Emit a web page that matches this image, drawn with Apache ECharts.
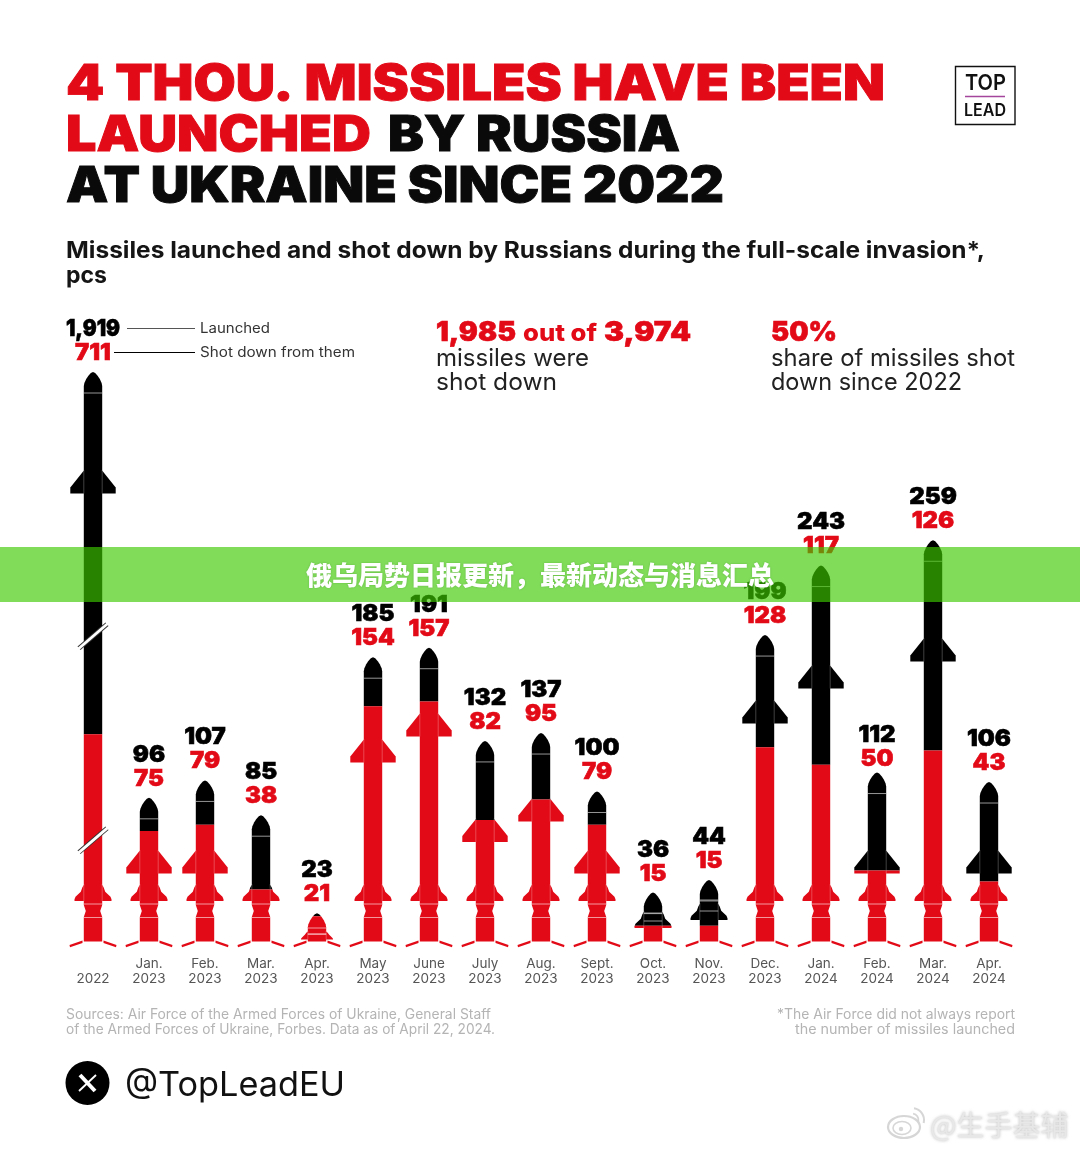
<!DOCTYPE html>
<html><head><meta charset="utf-8">
<style>html,body{margin:0;padding:0;background:#fff}#c{width:1080px;height:1150px}</style>
<script src="https://cdn.jsdelivr.net/npm/echarts@6/dist/echarts.min.js"></script>
</head><body><div id="c"></div>
<script>
const categories = ['2022','Jan.\n2023','Feb.\n2023','Mar.\n2023','Apr.\n2023','May\n2023','June\n2023','July\n2023','Aug.\n2023','Sept.\n2023','Oct.\n2023','Nov.\n2023','Dec.\n2023','Jan.\n2024','Feb.\n2024','Mar.\n2024','Apr.\n2024'];
const launched = [1919,96,107,85,23,185,191,132,137,100,36,44,199,243,112,259,106];
const shotDown = [711,75,79,38,21,154,157,82,95,79,15,15,128,117,50,126,43];
const breaks2022 = [[69,644],[773,1752]];

const RED='#e30a17', BLACK='#000000';
const FB='Inter, "Noto Sans", sans-serif';
// rocket geometry: pixel offsets from the baseline of each rocket
const upperFin = {0:479.5,1:99.5,2:99.5,5:210.5,6:236.5,7:131,8:151.5,9:99.5,12:249.5,13:284.5,14:99.5,15:311.5,16:99.5};
const labelNudge = {14:6};
const lowerParts = {
  def:{fin:[65.5,48.5],seams:[45.5,32],waist:true,half:18.5},
  4:{fin:[18.5,10],seams:[21.5,15.5],waist:false,half:16},
  10:{fin:[38.5,21.5],seams:[36.5,28.5],waist:false,half:18.5},
  11:{fin:[46.5,29.5],seams:[49.5,38.5],waist:false,half:18.5}
};
function clip(poly,yc,keepBelow){
  const out=[];const ins=p=>keepBelow?p[1]>=yc:p[1]<=yc;
  for(let i=0;i<poly.length;i++){
    const a=poly[i],b=poly[(i+1)%poly.length];
    if(ins(a))out.push(a);
    if(ins(a)!==ins(b)){const t=(yc-a[1])/(b[1]-a[1]);out.push([a[0]+t*(b[0]-a[0]),yc]);}
  }
  return out;
}
function rocketItem(params,api){
  const idx=api.value(0),L=api.value(1),S=api.value(2);
  const [cx,base]=api.coord([idx,0]);
  const topY=api.coord([idx,L])[1], redY=api.coord([idx,S])[1];
  const parts=lowerParts[idx]||lowerParts.def;
  const kids=[];
  const Y=o=>base-o;
  const P=(x,y)=>[cx+x,y];
  const paint=(poly)=>{
    const r=clip(poly,redY,true),b=clip(poly,redY,false);
    if(b.length>2)kids.push({type:'polygon',shape:{points:b},style:{fill:BLACK}});
    if(r.length>2)kids.push({type:'polygon',shape:{points:r},style:{fill:RED}});
  };
  const hw=9.2;
  const seam=(x1,y1,x2,y2,a)=>kids.push({type:'line',shape:{x1,y1,x2,y2},style:{stroke:'rgba(255,255,255,'+a+')',lineWidth:.8}});
  [1,-1].forEach(s=>{
    paint([P(s*10.5,Y(9)),P(s*23.5,Y(4.6)),P(s*23,Y(2.2)),P(s*10.5,Y(6.4))]);
    const a=Y(parts.fin[0]),b=Y(parts.fin[1]),h=b-a,w=parts.half;
    paint([P(s*(hw-.5),a),P(s*(hw+1.5),a+h*.2),P(s*(hw+3),a+h*.45),P(s*(w-1),a+h*.75),P(s*w,a+h*.9),P(s*w,b),P(s*(hw-.5),b)]);
    if(upperFin[idx]!=null){
      const t=Y(upperFin[idx]);
      paint([P(s*(hw-.5),t),P(s*22.7,t+17.5),P(s*22.7,t+23.5),P(s*(hw-.5),t+23.5)]);
    }
  });
  const right=[[hw,Y(8)]];
  if(parts.waist){right.push([hw,Y(32.5)],[7.2,Y(38.5)],[hw,Y(44.5)]);}
  right.push([hw,topY+14],[8.6,topY+11],[6.8,topY+7],[4.8,topY+4],[2.2,topY+1],[0,topY]);
  const body=right.map(p=>P(p[0],p[1]));
  for(let i=right.length-2;i>=0;i--)body.push(P(-right[i][0],right[i][1]));
  paint(body);
  [1,-1].forEach(s=>{
    seam(cx+s*hw,Y(parts.fin[0]),cx+s*hw,Y(parts.fin[1]),.32);
    if(upperFin[idx]!=null){const t=Y(upperFin[idx]);seam(cx+s*hw,t,cx+s*hw,t+23.5,.32);}
  });
  [Y(parts.seams[0]),Y(parts.seams[1]),topY+21].forEach(y=>{
    kids.push({type:'line',shape:{x1:cx-hw,y1:y,x2:cx+hw,y2:y},style:{stroke:'rgba(255,255,255,.65)',lineWidth:.9}});
  });
  const nudge=labelNudge[idx]||0;
  const lab=(txt,y,col,sx)=>kids.push({type:'text',x:cx,y:y+nudge,scaleX:sx,style:{text:txt,fill:col,stroke:col,lineWidth:.6,align:'center',verticalAlign:'middle',fontFamily:FB,fontWeight:900,fontSize:23}});
  lab(L>=1000?String(L).replace(/(\d)(\d{3})$/,'$1,$2'):String(L),topY-43,BLACK,L>=1000?0.9:1.04);
  lab(String(S),topY-19,RED,1.04);
  if(idx===0){
    breaks2022.forEach(b=>{
      const y=api.coord([0,b[0]])[1];
      kids.push({type:'line',shape:{x1:cx-14,y1:y+12,x2:cx+14,y2:y-12},style:{stroke:'#333',lineWidth:4.6}});
      kids.push({type:'line',shape:{x1:cx-14.5,y1:y+12.5,x2:cx+14.5,y2:y-12.5},style:{stroke:'#fff',lineWidth:2.8}});
    });
  }
  return {type:'group',children:kids};
}

const mc=document.createElement('canvas').getContext('2d');
function T(str,x,y,size,weight,color,w,bold){
  let sx=1;
  if(w){mc.font=weight+' '+size+'px '+FB;sx=w/mc.measureText(str).width;}
  const st={text:str,fill:color,fontFamily:FB,fontWeight:weight,fontSize:size,verticalAlign:'middle',align:'left'};
  if(bold){st.stroke=color;st.lineWidth=bold;}
  return {type:'text',x:x,y:y,scaleX:sx,z:50,style:st};
}
function TR(str,xr,y,size,weight,color,w){
  return T(str,xr-w,y,size,weight,color,w);
}
const G=[];
G.push(T('4 THOU. MISSILES HAVE BEEN',66,85,50,900,RED,819,.9));
G.push(T('LAUNCHED',66,136,50,900,RED,305,.9));
G.push(T('BY RUSSIA',388,136,50,900,'#0a0a0a',292,.9));
G.push(T('AT UKRAINE SINCE 2022',66,187,50,900,'#0a0a0a',658,.9));
G.push(T('Missiles launched and shot down by Russians during the full-scale invasion*,',66,251,23,700,'#151515',919));
G.push(T('pcs',66,276,23,700,'#151515',41));
G.push({type:'line',z:50,shape:{x1:127,y1:328.5,x2:195,y2:328.5},style:{stroke:'#555',lineWidth:1}});
G.push({type:'line',z:50,shape:{x1:114,y1:352.5,x2:195,y2:352.5},style:{stroke:'#000',lineWidth:1}});
G.push(T('Launched',200,329,14,400,'#333',70));
G.push(T('Shot down from them',200,353,14,400,'#333',155));
G.push(T('1,985',436,333,27,900,RED,80,.6));
G.push(T('out of',523,334,24,800,RED,74));
G.push(T('3,974',604,333,27,900,RED,87,.6));
G.push(T('missiles were',436,359,24,400,'#222',153));
G.push(T('shot down',436,383,24,400,'#222',121));
G.push(T('50%',771,333,27,900,RED,66,.6));
G.push(T('share of missiles shot',771,359,24,400,'#222',244));
G.push(T('down since 2022',771,383,24,400,'#222',191));
G.push(T('Sources: Air Force of the Armed Forces of Ukraine, General Staff',66,1015,14,400,'#b4b4b4',425));
G.push(T('of the Armed Forces of Ukraine, Forbes. Data as of April 22, 2024.',66,1030,14,400,'#b4b4b4',429));
G.push(TR('*The Air Force did not always report',1015,1015,14,400,'#b4b4b4',238));
G.push(TR('the number of missiles launched',1015,1030,14,400,'#b4b4b4',220));
G.push({type:'circle',z:50,shape:{cx:87.5,cy:1083,r:22},style:{fill:'#000'}});
G.push({type:'line',z:51,shape:{x1:80,y1:1075,x2:95,y2:1091},style:{stroke:'#fff',lineWidth:4}});
G.push({type:'line',z:51,shape:{x1:96,y1:1075,x2:79,y2:1091},style:{stroke:'#fff',lineWidth:1.8}});
G.push(T('@TopLeadEU',125,1085.5,34,400,'#111',220));
G.push({type:'rect',z:50,shape:{x:955.5,y:66.5,width:59.5,height:58},style:{fill:'#fff',stroke:'#111',lineWidth:1.4}});
G.push(T('TOP',965,83,22,600,'#111',41));
G.push({type:'line',z:50,shape:{x1:965,y1:96.5,x2:1005,y2:96.5},style:{stroke:'#a4479c',lineWidth:1.4}});
G.push(T('LEAD',964,111,17,600,'#111',42));
G.push({type:'rect',z:100,shape:{x:0,y:547,width:1080,height:55},style:{fill:'rgba(61,201,2,0.65)'}});
G.push({type:'text',z:101,x:540,y:575.5,style:{text:'俄乌局势日报更新，最新动态与消息汇总',fill:'#fff',align:'center',verticalAlign:'middle',fontFamily:'"Noto Sans CJK SC"',fontWeight:900,fontSize:26,textShadowColor:'rgba(40,110,20,.35)',textShadowBlur:2}});
const WM='rgba(212,212,212,.95)';
G.push({type:'text',z:60,x:930,y:1125,style:{text:'@生手基辅',fill:'rgba(232,232,232,.95)',fontFamily:'"Noto Sans CJK SC"',fontSize:28,fontWeight:400,verticalAlign:'middle',align:'left',textShadowColor:'rgba(130,130,130,.6)',textShadowBlur:3}});
G.push({type:'ellipse',z:60,shape:{cx:904,cy:1127,rx:16,ry:11},style:{fill:'#fff',stroke:WM,lineWidth:2.2}});
G.push({type:'ellipse',z:60,shape:{cx:902,cy:1128,rx:9,ry:6.5},style:{fill:'none',stroke:WM,lineWidth:1.6}});
G.push({type:'circle',z:60,shape:{cx:901,cy:1129,r:2.2},style:{fill:WM}});
G.push({type:'arc',z:60,shape:{cx:912,cy:1120,r:12,startAngle:-1.4,endAngle:0.25},style:{fill:'none',stroke:WM,lineWidth:2}});
G.push({type:'arc',z:60,shape:{cx:912,cy:1120,r:6.5,startAngle:-1.4,endAngle:0.25},style:{fill:'none',stroke:WM,lineWidth:1.8}});

const chart=echarts.init(document.getElementById('c'),null,{renderer:'canvas'});
const rows=categories.map((c,i)=>[i,launched[i],shotDown[i]]);
chart.setOption({
  animation:false,backgroundColor:'#fff',
  grid:{left:65,top:372,width:952,height:577.5,containLabel:false},
  xAxis:{type:'category',data:categories,boundaryGap:true,axisLine:{show:false},axisTick:{show:false},
    axisLabel:{interval:0,margin:7,color:'#555',fontFamily:FB,fontSize:13.5,lineHeight:15,verticalAlign:'top',
      formatter:v=>v.indexOf('\n')<0?'\n'+v:v}},
  yAxis:[
    {type:'value',min:0,max:365.5,show:false,splitLine:{show:false}},
    {type:'value',min:0,max:launched[0],show:false,splitLine:{show:false},
     breaks:breaks2022.map(b=>({start:b[0],end:b[1],gap:0})),breakArea:{show:false}}
  ],
  graphic:{elements:G},
  series:[
    {type:'custom',name:'2022',yAxisIndex:1,clip:false,silent:true,renderItem:rocketItem,encode:{x:0,y:[1,2]},data:rows.slice(0,1),z:5},
    {type:'custom',name:'Monthly',yAxisIndex:0,clip:false,silent:true,renderItem:rocketItem,encode:{x:0,y:[1,2]},data:rows.slice(1),z:5}
  ]
});
</script></body></html>
